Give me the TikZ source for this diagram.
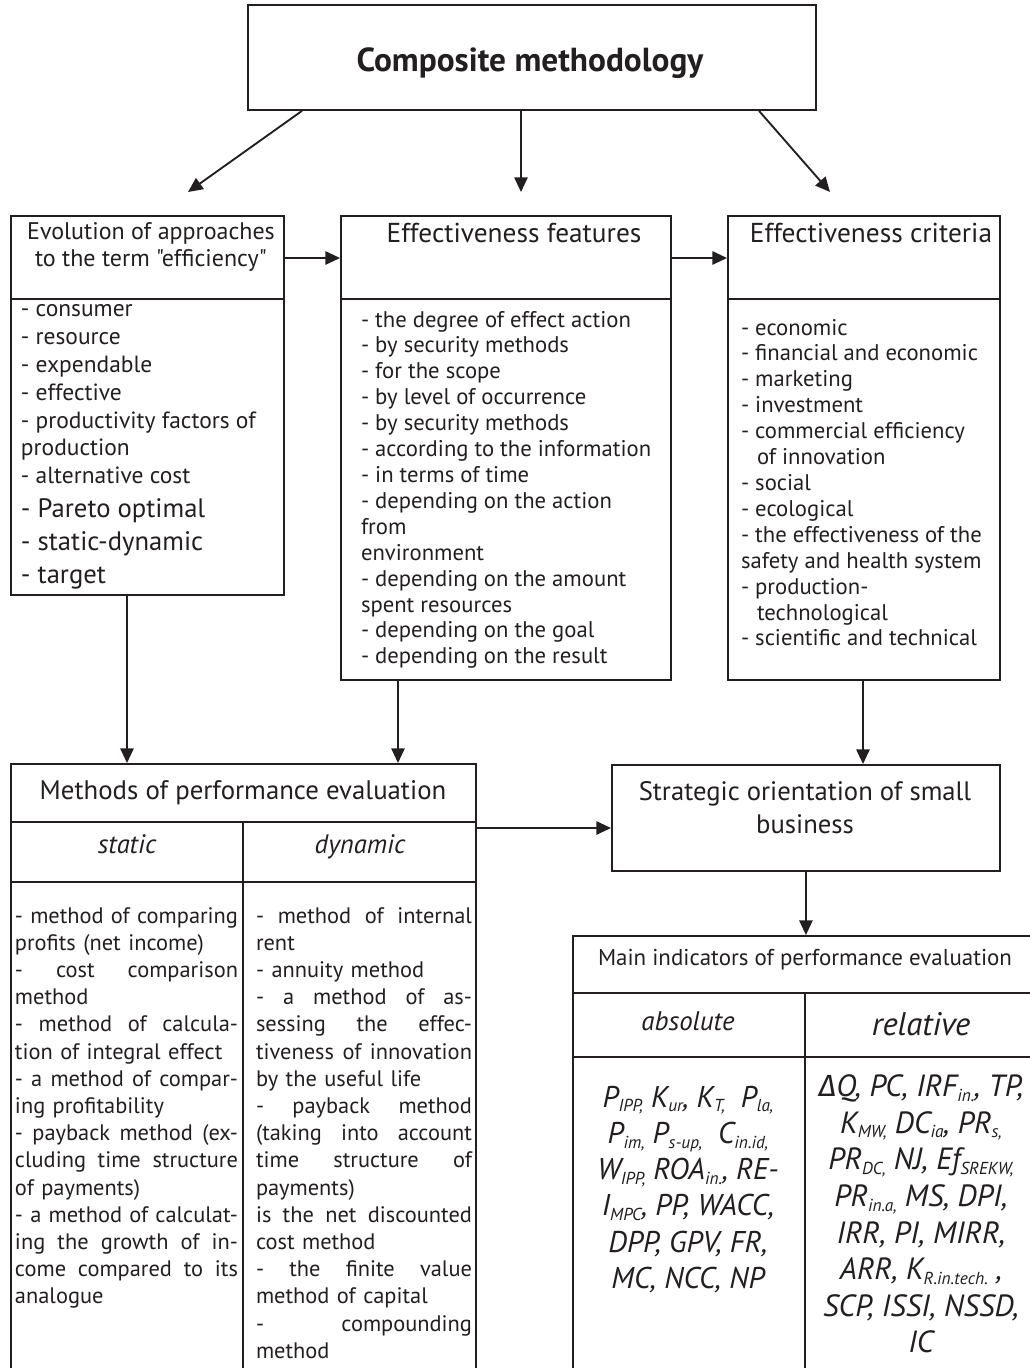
\documentclass[tikz,border=0pt]{standalone}
\usepackage{fontspec}
\setmainfont{PT Sans}[Ligatures=TeXOff]
\newfontfamily\gkfont{Fira Sans}
\usetikzlibrary{arrows.meta}
\newcommand\fs[2]{\fontsize{#1}{#2}\selectfont}
\newcommand\jl[2]{\leavevmode\hbox to #1{\spaceskip=0.25em plus 1fil\relax\xspaceskip=0.25em plus 1fil\relax #2}}
\newcommand\sbs[1]{\raisebox{-0.3ex}{\fontsize{13}{14}\selectfont #1}}
\definecolor{ink}{HTML}{231F20}
\begin{document}
\begin{tikzpicture}[x=0.75pt,y=-0.75pt,
  box/.style={draw=ink,line width=1.4pt,inner sep=0pt,anchor=north west},
  txt/.style={inner sep=0pt,outer sep=0pt,text=ink},
  arr/.style={draw=ink,line width=1.4pt,-{Triangle[length=11pt,width=10pt]}},
  ln/.style={draw=ink,line width=1.4pt}]
\useasboundingbox (0,0) rectangle (1030,1368);
\fill[white] (0,0) rectangle (1030,1368);

% boxes
\node[box,minimum width=568*0.75pt,minimum height=105*0.75pt] (T) at (247,4) {};
\node[box,minimum width=273*0.75pt,minimum height=379*0.75pt] (A) at (10,215) {};
\node[box,minimum width=330*0.75pt,minimum height=464*0.75pt] (B) at (340,215) {};
\node[box,minimum width=272*0.75pt,minimum height=464*0.75pt] (C) at (727,215) {};
\node[box,minimum width=465*0.75pt,minimum height=620*0.75pt] (M) at (10,763) {};
\node[box,minimum width=388*0.75pt,minimum height=106*0.75pt] (S) at (611,764) {};
\node[box,minimum width=466*0.75pt,minimum height=450*0.75pt] (I) at (572,935) {};

% dividers
\draw[ln] (A.west |- 0,299) -- (A.east |- 0,299);
\draw[ln] (B.west |- 0,299) -- (B.east |- 0,299);
\draw[ln] (C.west |- 0,299) -- (C.east |- 0,299);
\draw[ln] (M.west |- 0,822) -- (M.east |- 0,822);
\draw[ln] (M.west |- 0,882) -- (M.east |- 0,882);
\draw[ln] (243,822) -- (M.south -| 243,0);
\draw[ln] (I.west |- 0,993) -- (I.east |- 0,993);
\draw[ln] (I.west |- 0,1057) -- (I.east |- 0,1057);
\draw[ln] (805,993) -- (I.south -| 805,0);

% connectors
\coordinate (e1) at (188,192);
\coordinate (e2) at (521,192);
\coordinate (e3) at (830,192);
\draw[arr] (T.south -| 302,0) -- (e1);
\draw[arr] (T.south -| e2) -- (e2);
\draw[arr] (T.south -| 759,0) -- (e3);
\draw[arr] (A.east |- 0,258) -- (B.west |- 0,258);
\draw[arr] (B.east |- 0,258) -- (C.west |- 0,258);
\draw[arr] (A.south -| 127,0) -- (M.north -| 127,0);
\draw[arr] (B.south -| 398,0) -- (M.north -| 398,0);
\draw[arr] (C.south -| 863,0) -- (S.north -| 863,0);
\draw[arr] (M.east |- 0,828) -- (S.west |- 0,828);
\draw[arr] (S.south) -- (I.north -| S.south);

% texts
\node[txt,anchor=base,font=\bfseries\fs{25}{30}] (tT) at (530,71) {Composite methodology};

\node[txt,anchor=north,align=center,font=\fs{18}{20.25}] (tA) at (151,221)
  {\strut Evolution of approaches\\to the term "efficiency"};
\node[txt,anchor=north west,align=left,font=\fs{17.6}{20.85}] (iA1) at (21,297.5)
  {\strut - consumer\\- resource\\- expendable\\- effective\\- productivity factors of\\production\\- alternative cost};
\node[txt,anchor=north west,align=left,font=\fs{20}{24.4}] (iA2) at (21,495.2)
  {\strut - Pareto optimal\\- static-dynamic\\- target};

\node[txt,anchor=base,font=\fs{20.5}{24}] (tB) at (514,242) {Effectiveness features};
\node[txt,anchor=north west,align=left,font=\fs{17}{19.43}] (iB) at (361,308.9)
  {\strut - the degree of effect action\\- by security methods\\- for the scope\\- by level of occurrence\\- by security methods\\- according to the information\\- in terms of time\\- depending on the action\\from\\environment\\- depending on the amount\\spent resources\\- depending on the goal\\- depending on the result};

\node[txt,anchor=base,font=\fs{20.5}{24}] (tC) at (871,242) {Effectiveness criteria};
\node[txt,anchor=north west,align=left,font=\fs{17}{19.43}] (iC) at (741,316.9)
  {\strut - economic\\- financial and economic\\- marketing\\- investment\\- commercial efficiency\\\hspace*{12pt}of innovation\\- social\\- ecological\\- the effectiveness of the\\safety and health system\\- production-\\\hspace*{12pt}technological\\- scientific and technical};

\node[txt,anchor=base,font=\fs{20.1}{24}] (tM) at (243,799) {Methods of performance evaluation};
\node[txt,anchor=base,font=\itshape\fs{20}{24}] (tMs) at (127,853) {static};
\node[txt,anchor=base,font=\itshape\fs{20}{24}] (tMd) at (360,853) {dynamic};

\node[txt,anchor=north west,align=left,text width=167.25pt,font=\fs{16.8}{20.4}] (iMs) at (15,904)
  {\strut\jl{167.25pt}{- method of comparing}\\
   profits (net income)\\
   \jl{167.25pt}{- cost comparison}\\
   method\\
   \jl{167.25pt}{- method of calcula-}\\
   tion of integral effect\\
   \jl{167.25pt}{- a method of compar-}\\
   ing profitability\\
   \jl{167.25pt}{- payback method (ex-}\\
   \jl{167.25pt}{cluding time structure}\\
   of payments)\\
   \jl{167.25pt}{- a method of calculat-}\\
   \jl{167.25pt}{ing the growth of in-}\\
   \jl{167.25pt}{come compared to its}\\
   analogue};
\node[txt,anchor=north west,align=left,text width=162pt,font=\fs{16.8}{20.4}] (iMd) at (256,904)
  {\strut\jl{162pt}{- method of internal}\\
   rent\\
   - annuity method\\
   \jl{162pt}{- a method of as-}\\
   \jl{162pt}{sessing the effec-}\\
   \jl{162pt}{tiveness of innovation}\\
   by the useful life\\
   \jl{162pt}{- payback method}\\
   \jl{162pt}{(taking into account}\\
   \jl{162pt}{time structure of}\\
   payments)\\
   \jl{162pt}{is the net discounted}\\
   cost method\\
   \jl{162pt}{- the finite value}\\
   method of capital\\
   \jl{162pt}{- compounding}\\
   method};

\node[txt,anchor=north,align=center,font=\fs{20}{24.75}] (tS) at (805,776.9)
  {\strut Strategic orientation of small\\business};

\node[txt,anchor=base,font=\fs{17.2}{20}] (tI) at (805,965) {Main indicators of performance evaluation};
\node[txt,anchor=base,font=\itshape\fs{20.2}{24}] (tIa) at (688,1030) {absolute};
\node[txt,anchor=base,font=\itshape\fs{24.5}{28}] (tIr) at (921,1035) {relative};

\node[txt,anchor=north,align=center,font=\itshape\fs{22.5}{27.15}] (iIa) at (688,1082)
  {\strut P\sbs{IPP,} K\sbs{ur}, K\sbs{T,}\ \ P\sbs{la,}\\
   P\sbs{im,} P\sbs{s-up,}\ \ C\sbs{in.id,}\\
   W\sbs{IPP,} ROA\sbs{in.}, RE-\\
   I\sbs{MPC}, PP, WACC,\\
   DPP, GPV, FR,\\
   MC, NCC, NP};
\node[txt,anchor=north,align=center,font=\itshape\fs{23}{27.45}] (iIr) at (921,1071)
  {\strut{\gkfont\itshape Δ}Q, PC, IRF\sbs{in.}, TP,\\
   K\sbs{MW,} DC\sbs{ia}, PR\sbs{s,}\\
   PR\sbs{DC,} NJ, Ef\sbs{SREKW,}\\
   PR\sbs{in.a,} MS, DPI,\\
   IRR, PI, MIRR,\\
   ARR, K\sbs{R.in.tech.}\ ,\\
   SCP, ISSI, NSSD,\\
   IC};
\end{tikzpicture}
\end{document}
